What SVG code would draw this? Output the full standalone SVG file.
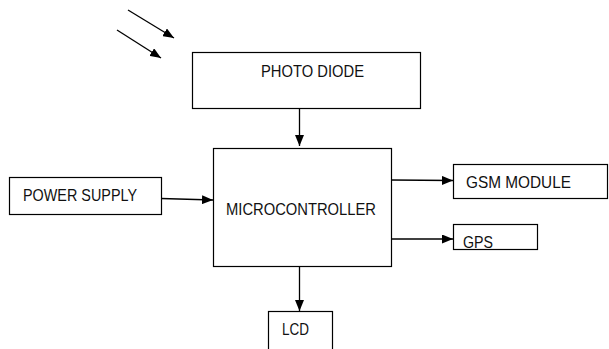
<svg xmlns="http://www.w3.org/2000/svg" width="609" height="349" viewBox="0 0 609 349">
<style>
.box{fill:#fff;stroke:#000;stroke-width:1.2}
.lbl{font-family:"Liberation Sans",Arial,sans-serif;font-size:16.5px;fill:#111}
.ln{stroke:#000;stroke-width:1.3;fill:none;marker-end:url(#ah)}
</style>
<defs>
<marker id="ah" markerWidth="11" markerHeight="9" refX="11" refY="4.5" orient="auto" markerUnits="userSpaceOnUse">
<path d="M0,0 L11,4.5 L0,9 Z" fill="#000"/>
</marker>
</defs>
<rect width="609" height="349" fill="#fff"/>
<g id="photodiode"><rect class="box" x="192.5" y="52.5" width="228" height="56"/><text class="lbl" x="261" y="76.5" textLength="103" lengthAdjust="spacingAndGlyphs">PHOTO DIODE</text></g>
<g id="microcontroller"><rect class="box" x="213.5" y="148.5" width="178" height="118"/><text class="lbl" x="226" y="215" textLength="150" lengthAdjust="spacingAndGlyphs">MICROCONTROLLER</text></g>
<g id="powersupply"><rect class="box" x="9.5" y="177.5" width="152" height="37"/><text class="lbl" x="23" y="200.5" textLength="114" lengthAdjust="spacingAndGlyphs">POWER SUPPLY</text></g>
<g id="gsm"><rect class="box" x="453.5" y="164.5" width="154" height="34"/><text class="lbl" x="466" y="188" textLength="105" lengthAdjust="spacingAndGlyphs">GSM MODULE</text></g>
<g id="gps"><rect class="box" x="453.5" y="224.5" width="84" height="25"/><text class="lbl" x="463" y="248" textLength="30" lengthAdjust="spacingAndGlyphs">GPS</text></g>
<g id="lcd"><rect class="box" x="268.5" y="311.5" width="64" height="45"/><text class="lbl" x="282" y="335" textLength="27" lengthAdjust="spacingAndGlyphs">LCD</text></g>
<g id="connectors">
<line class="ln" x1="128" y1="10" x2="174" y2="38"/>
<line class="ln" x1="117" y1="30" x2="161" y2="58"/>
<line class="ln" x1="299.5" y1="109" x2="299.5" y2="146"/>
<line class="ln" x1="161" y1="198.5" x2="213" y2="200"/>
<line class="ln" x1="391" y1="180" x2="453" y2="180.5"/>
<line class="ln" x1="391" y1="239" x2="453" y2="239"/>
<line class="ln" x1="299.5" y1="266" x2="299.5" y2="311"/>
</g>
</svg>
